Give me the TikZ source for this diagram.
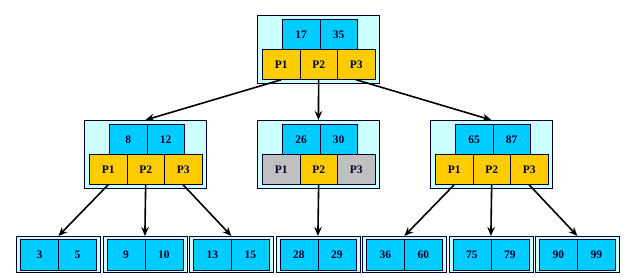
\documentclass[tikz,border=0pt]{standalone}
\usepackage{fontspec}
\setmainfont{Liberation Serif}
\usetikzlibrary{arrows.meta}
\definecolor{outerfill}{RGB}{204,255,255}
\definecolor{keyfill}{RGB}{0,204,255}
\definecolor{ptrfill}{RGB}{255,204,0}
\definecolor{grayfill}{RGB}{192,192,192}
\definecolor{edgecol}{RGB}{0,0,51}
\tikzset{
  outerbox/.style={draw=edgecol, line width=0.8pt, fill=outerfill, anchor=north west, inner sep=0pt, minimum width=122pt, minimum height=68pt},
  leafbox/.style={draw=edgecol, line width=0.8pt, fill=outerfill, anchor=north west, inner sep=0pt, minimum width=84pt, minimum height=36pt},
  cell/.style={draw=edgecol, line width=0.8pt, anchor=north west, inner sep=0pt, minimum width=37.5pt, minimum height=30pt, font=\fontsize{11.5}{12}\selectfont\bfseries, text=edgecol},
  keycell/.style={cell, fill=keyfill},
  leafcell/.style={cell, fill=keyfill, minimum width=38pt, minimum height=31pt},
  ptrcell/.style={cell, fill=ptrfill, minimum height=29.5pt},
  graycell/.style={cell, fill=grayfill, minimum height=29.5pt},
  arr/.style={-{Stealth[length=9pt,width=7.5pt]}, line width=1.6pt, black}
}
\newcommand\bnode[7]{%
  \node[outerbox] (#1) at (#2,#3) {};
  \node[keycell] (#1k1) at (#2+25,#3+4.5) {#4};
  \node[keycell] (#1k2) at (#2+62.5,#3+4.5) {#5};
  \node[#6] (#1p1) at (#2+5,#3+34.5) {P1};
  \node[ptrcell] (#1p2) at (#2+42.5,#3+34.5) {P2};
  \node[#7] (#1p3) at (#2+80,#3+34.5) {P3};
}
\newcommand\bleaf[4]{%
  \node[leafbox] (#1) at (#2,236) {};
  \node[leafcell] (#1k1) at (#2+4,238.5) {#3};
  \node[leafcell] (#1k2) at (#2+42,238.5) {#4};
}
\begin{document}
\begin{tikzpicture}[x=1pt,y=-1pt]
  \fill[white] (0,0) rectangle (625,278);
  \useasboundingbox (0,0) rectangle (625,278);
  \bnode{r}{257}{15}{17}{35}{ptrcell}{ptrcell}
  \bnode{a}{84}{120}{8}{12}{ptrcell}{ptrcell}
  \bnode{b}{257}{120}{26}{30}{graycell}{graycell}
  \bnode{c}{430}{120}{65}{87}{ptrcell}{ptrcell}
  \bleaf{l1}{16}{3}{5}
  \bleaf{l2}{102.5}{9}{10}
  \bleaf{l3}{189}{13}{15}
  \bleaf{l4}{275.5}{28}{29}
  \bleaf{l5}{362}{36}{60}
  \bleaf{l6}{448.5}{75}{79}
  \bleaf{l7}{535}{90}{99}
  \draw[arr] (rp1.south) -- (a.north);
  \draw[arr] (rp2.south) -- (b.north);
  \draw[arr] (rp3.south) -- (c.north);
  \draw[arr] (ap1.south) -- (l1.north);
  \draw[arr] (ap2.south) -- (l2.north);
  \draw[arr] (ap3.south) -- (l3.north);
  \draw[arr] (bp2.south) -- (l4.north);
  \draw[arr] (cp1.south) -- (l5.north);
  \draw[arr] (cp2.south) -- (l6.north);
  \draw[arr] (cp3.south) -- (l7.north);
\end{tikzpicture}
\end{document}
